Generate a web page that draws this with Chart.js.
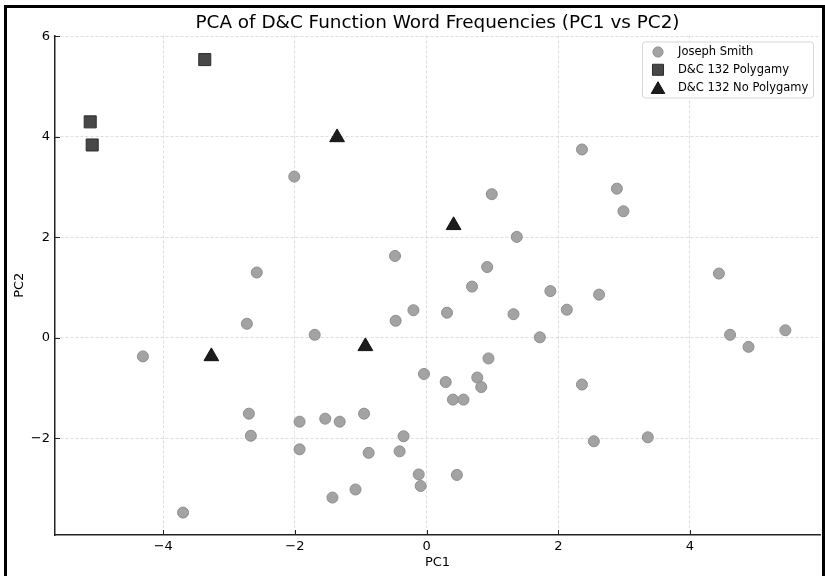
<!DOCTYPE html>
<html>
<head>
<meta charset="utf-8">
<script src="https://cdn.jsdelivr.net/npm/chart.js@4/dist/chart.umd.min.js"></script>
<style>
html,body{margin:0;padding:0;background:#fff;overflow:hidden}
canvas{display:block}
</style>
</head>
<body>
<canvas id="c" width="825" height="576"></canvas>
<script>
// ---- data ----
const josephX = [-4.31,-3.70,-2.01,-2.58,-2.73,-1.70,-2.70,-2.67,-1.93,-1.93,-1.54,-1.32,-0.95,-0.88,-1.43,-1.08,
  -0.48,-0.47,-0.20,-0.04,-0.35,-0.41,-0.12,-0.09,0.31,0.29,0.40,0.56,0.46,0.69,0.77,0.83,0.92,0.94,0.99,
  1.32,1.37,1.72,1.88,2.13,2.36,2.36,2.54,2.62,2.89,2.99,3.36,4.44,4.61,4.89,5.45];
const josephY = [-0.37,-3.48,3.21,1.30,0.28,0.06,-1.51,-1.95,-1.67,-2.22,-1.61,-1.67,-1.51,-2.29,-3.18,-3.02,
  1.63,0.34,0.55,-0.72,-1.96,-2.26,-2.72,-2.95,0.50,-0.88,-1.23,-1.23,-2.73,1.02,-0.79,-0.98,1.41,-0.41,2.86,
  0.47,2.01,0.01,0.93,0.56,3.75,-0.93,-2.06,0.86,2.97,2.52,-1.98,1.28,0.06,-0.18,0.15];
const polyX = [-5.11,-5.08,-3.37];
const polyY = [4.30,3.84,5.54];
const noPolyX = [-1.36,0.41,-3.27,-0.93];
const noPolyY = [3.99,2.24,-0.37,-0.17];
const seriesNames = ['Joseph Smith','D&C 132 Polygamy','D&C 132 No Polygamy'];
const xTicks = [-4,-2,0,2,4];
const yTicks = [-2,0,2,4,6];
const titleText = 'PCA of D&C Function Word Frequencies (PC1 vs PC2)';
const xLabel = 'PC1';
const yLabel = 'PC2';

const FONT = "'DejaVu Sans', 'Liberation Sans', sans-serif";
Chart.defaults.font.family = FONT;
Chart.defaults.color = '#000';

const pts = (xs, ys) => xs.map((x, i) => ({x: x, y: ys[i]}));
const fmt = v => (v < 0 ? '\u2212' + Math.abs(v) : String(v));

const decorPlugin = {
  id: 'decor',
  beforeDraw(chart) {
    const ctx = chart.ctx;
    ctx.save();
    ctx.fillStyle = '#fff';
    ctx.fillRect(0, 0, chart.width, chart.height);
    ctx.restore();
  },
  afterDatasetsDraw(chart) {
    const {ctx, chartArea: a, scales: {x, y}} = chart;
    ctx.save();
    ctx.strokeStyle = '#222';
    ctx.lineWidth = 1;
    x.ticks.forEach(t => {
      const px = Math.round(x.getPixelForValue(t.value)) + 0.5;
      ctx.beginPath(); ctx.moveTo(px, a.bottom); ctx.lineTo(px, a.bottom - 5); ctx.stroke();
    });
    y.ticks.forEach(t => {
      const py = Math.round(y.getPixelForValue(t.value)) + 0.5;
      ctx.beginPath(); ctx.moveTo(a.left, py); ctx.lineTo(a.left + 5, py); ctx.stroke();
    });
    ctx.restore();
  },
  afterDraw(chart) {
    const ctx = chart.ctx;
    const a = chart.chartArea;
    // legend
    const lw = 171, lh = 56;
    const lx = a.right - 7 - lw, ly = a.top + 6;
    ctx.save();
    ctx.beginPath();
    if (ctx.roundRect) ctx.roundRect(lx + 0.5, ly + 0.5, lw, lh, 3); else ctx.rect(lx + 0.5, ly + 0.5, lw, lh);
    ctx.fillStyle = 'rgba(255,255,255,0.85)';
    ctx.fill();
    ctx.strokeStyle = '#d6d6d6';
    ctx.lineWidth = 1;
    ctx.stroke();
    chart.data.datasets.forEach((ds, i) => {
      const cy = ly + 10.5 + i * 17.8;
      ctx.fillStyle = ds.backgroundColor;
      ctx.strokeStyle = ds.borderColor;
      ctx.lineWidth = ds.borderWidth;
      const r = ds.pointRadius * 0.92;
      const off = ds.pointStyle === 'triangle' ? r * 0.25 : 0;
      Chart.helpers.drawPoint(ctx, {pointStyle: ds.pointStyle, radius: r, borderWidth: ds.borderWidth, rotation: 0}, lx + 16, cy + off);
      ctx.fillStyle = '#000';
      ctx.font = '11.5px ' + FONT;
      ctx.textBaseline = 'middle';
      ctx.textAlign = 'left';
      ctx.fillText(ds.label, lx + 36, cy);
    });
    // figure frame
    ctx.strokeStyle = '#000';
    ctx.lineWidth = 3;
    ctx.strokeRect(5.5, 6.5, 818, 700);
    ctx.restore();
  }
};

new Chart(document.getElementById('c'), {
  type: 'scatter',
  data: {
    datasets: [
      {label: seriesNames[0], data: pts(josephX, josephY), pointStyle: 'circle', pointRadius: 5.5,
       backgroundColor: '#a3a3a3', borderColor: '#8e8e8e', borderWidth: 1},
      {label: seriesNames[1], data: pts(polyX, polyY), pointStyle: 'rect', pointRadius: 8.5,
       backgroundColor: '#484848', borderColor: '#2c2c2c', borderWidth: 1},
      {label: seriesNames[2], data: pts(noPolyX, noPolyY), pointStyle: 'triangle', pointRadius: 8.5,
       backgroundColor: '#1c1c1c', borderColor: '#111111', borderWidth: 1}
    ]
  },
  options: {
    responsive: false,
    animation: false,
    events: [],
    layout: {autoPadding: false, padding: {left: 0, right: 5, top: 0, bottom: 0}},
    scales: {
      x: {
        type: 'linear', position: 'bottom', min: -5.645, max: 5.976,
        afterBuildTicks: s => { s.ticks = xTicks.map(v => ({value: v})); },
        afterFit: s => { s.height = 41; s.paddingRight = 0; s.paddingLeft = 0; },
        grid: {color: '#d4d4d4', lineWidth: 0.8, drawTicks: false},
        border: {display: true, color: '#222', width: 1.5, dash: [3, 2]},
        ticks: {color: '#000', font: {size: 13}, padding: 4, maxRotation: 0, autoSkip: false, callback: v => fmt(v)},
        title: {display: true, text: xLabel, color: '#000', font: {size: 13}, padding: {top: 0, bottom: 5.5}}
      },
      y: {
        type: 'linear', position: 'left', min: -3.926, max: 6.02,
        afterBuildTicks: s => { s.ticks = yTicks.map(v => ({value: v})); },
        afterFit: s => { s.width = 55; },
        grid: {color: '#d4d4d4', lineWidth: 0.8, drawTicks: false},
        border: {display: true, color: '#222', width: 1.5, dash: [3, 2]},
        ticks: {color: '#000', font: {size: 13}, padding: 5, autoSkip: false, callback: v => fmt(v)},
        title: {display: true, text: yLabel, color: '#000', font: {size: 13}, padding: {top: 12.2, bottom: 0}}
      }
    },
    plugins: {
      legend: {display: false},
      tooltip: {enabled: false},
      title: {display: true, text: titleText, fullSize: false, color: '#000',
              font: {size: 18.4, weight: 'normal'}, padding: {top: 12, bottom: 1.4}}
    }
  },
  plugins: [decorPlugin]
});
</script>
</body>
</html>
